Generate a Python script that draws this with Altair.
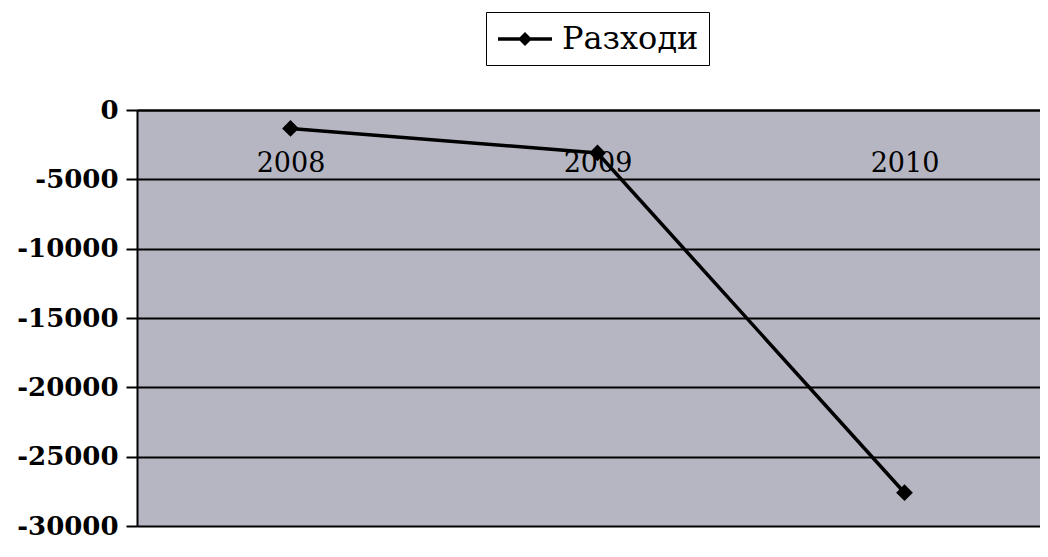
import altair as alt
import pandas as pd

years = ["2008", "2009", "2010"]
values = [-1330, -3100, -27600]
series = ["Разходи"] * 3
y_ticks = [0, -5000, -10000, -15000, -20000, -25000, -30000]

df = pd.DataFrame({"year": years, "value": values, "series": series})

FONT = "DejaVu Serif"

x = alt.X(
    "year:O",
    sort=years,
    scale=alt.Scale(type="point", padding=0.5, range=[0, 921]),
    axis=alt.Axis(
        orient="top", title=None, labelAngle=0, ticks=False, tickSize=0,
        labelPadding=-40, labelBaseline="top", labelFont=FONT,
        labelFontSize=27, labelColor="black", domainColor="black",
        domainWidth=2,
    ),
)
y = alt.Y(
    "value:Q",
    scale=alt.Scale(domain=[-30000, 0], nice=False),
    axis=alt.Axis(
        title=None, values=y_ticks, labelExpr="'' + datum.value",
        labelFont=FONT, labelFontSize=26, labelFontWeight="bold", labelColor="black",
        tickColor="black", tickSize=11, tickWidth=2, domainColor="black",
        domainWidth=2, gridColor="black", gridWidth=2, gridOpacity=1,
        labelPadding=8, labelFlush=False,
    ),
)
color = alt.Color(
    "series:N",
    scale=alt.Scale(range=["black"]),
    legend=alt.Legend(
        title=None, orient="none", legendX=349, legendY=-98,
        symbolType="M-1,0L2.6,0M0.8,-0.3L1.1,0L0.8,0.3L0.5,0Z",
        symbolSize=900, symbolStrokeWidth=3.5, symbolFillColor="black",
        symbolStrokeColor="black", labelFont=FONT, labelFontSize=32,
        labelColor="black", strokeColor="black", fillColor="white",
        padding=10, labelOffset=32, labelLimit=300,
    ),
)

line = alt.Chart(df).mark_line(strokeWidth=3.5).encode(x=x, y=y, color=color)
pts = alt.Chart(df).mark_point(shape="diamond", filled=True, size=280, opacity=1).encode(
    x=x, y=y, color=alt.Color("series:N", scale=alt.Scale(range=["black"]), legend=None)
)

chart = (
    alt.layer(line, pts)
    .properties(
        width=903, height=416,
        autosize=alt.AutoSizeParams(type="none"),
        padding={"left": 129, "top": 102, "right": 0, "bottom": 18},
    )
    .configure(background="white")
    .configure_view(fill="#b6b6c3", stroke=None)
)

chart.save("out.html", embed_options={"renderer": "svg", "actions": False})
